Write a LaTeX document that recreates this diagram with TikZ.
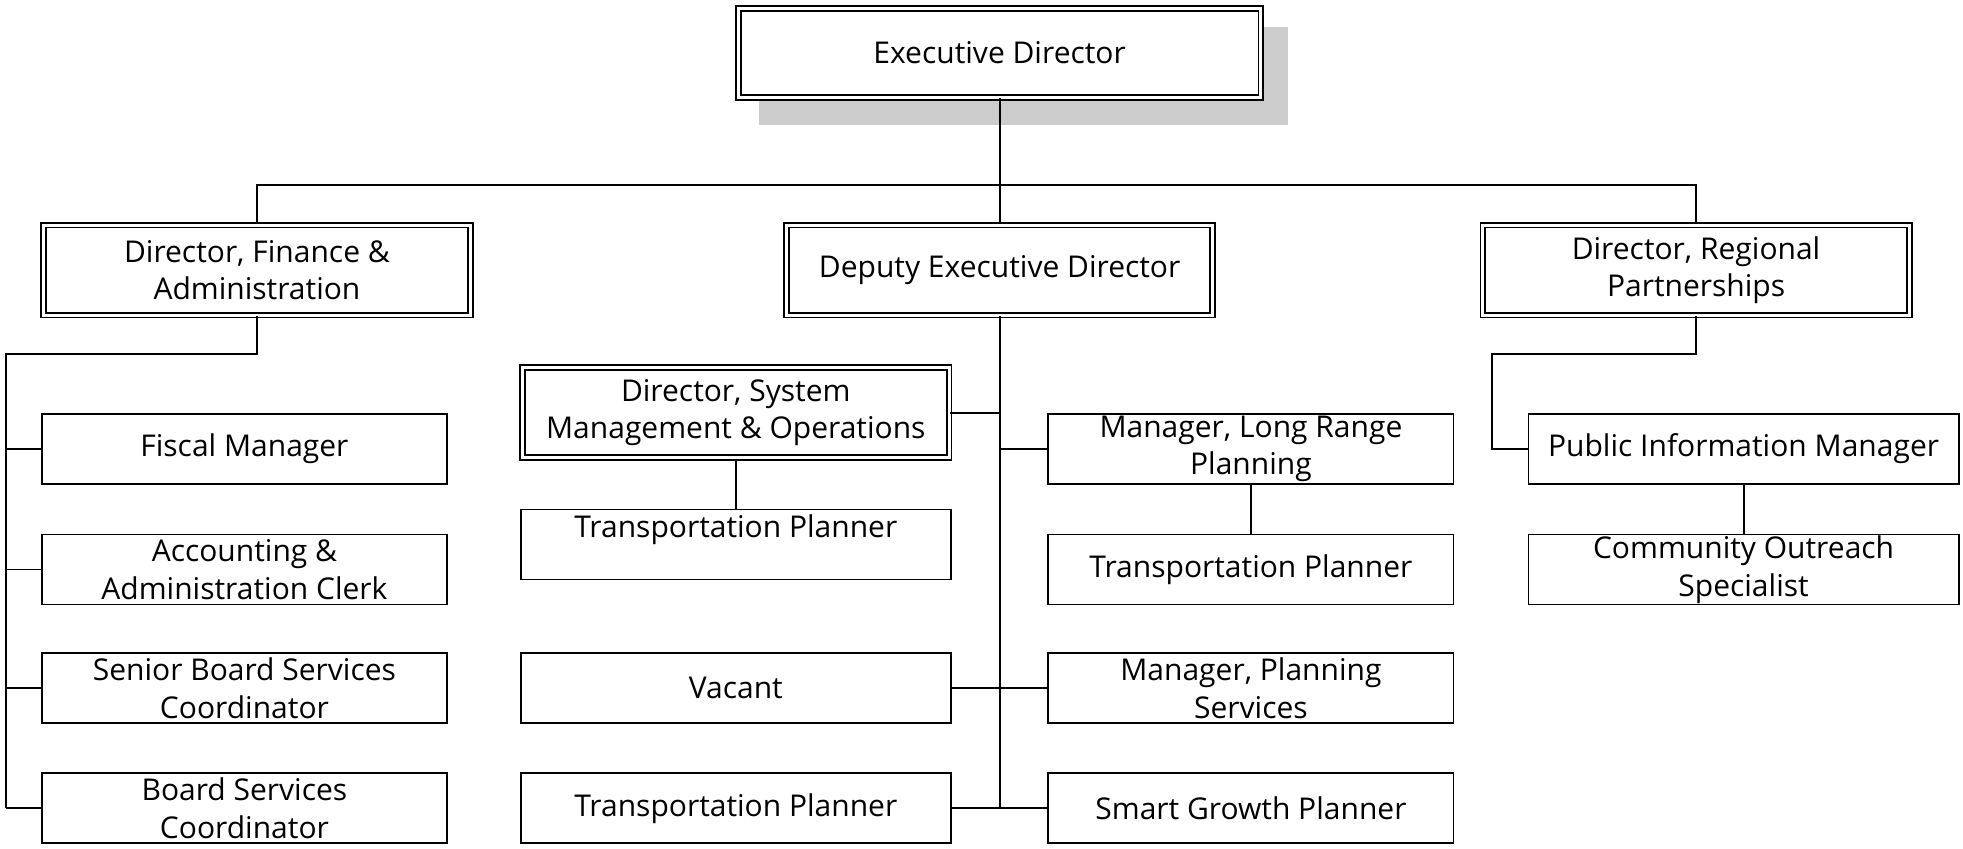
\documentclass[tikz,border=0pt]{standalone}
\usepackage{fontspec}
\setmainfont{Open Sans}
\tikzset{
    dbox/.style={draw=black, line width=0.75pt, double=white, double distance=1.2pt, fill=white,
        minimum width=170.5pt, minimum height=36pt, inner sep=0pt, align=center},
    sbox/.style={draw=black, line width=0.75pt, fill=white,
        minimum width=162pt, minimum height=28pt, inner sep=0pt, align=center},
    wbox/.style={sbox, minimum width=172pt},
    link/.style={line width=0.75pt}
}
\begin{document}
\begin{tikzpicture}[x=0.5pt, y=-0.5pt, font=\fontsize{12}{15}\selectfont]
    \useasboundingbox (0,0) rectangle (1570,678.4);
    % top
    \fill[black!20] (607,22) rectangle (1030,100);
    \node[dbox, minimum width=209pt, minimum height=35.5pt] (ed) at (799.5,42.5) {Executive Director};
    % second row
    \node[dbox] (dfa) at (205.5,216) {Director, Finance \&\\Administration};
    \node[dbox] (ded) at (799.5,216) {Deputy Executive Director};
    \node[dbox] (drp) at (1356.5,216) {Director, Regional\\Partnerships};
    \coordinate (bus) at (799.5,148);
    \draw[link] (ed.south) -- (ded.north);
    \draw[link] (dfa.north) |- (bus) -| (drp.north);
    % finance and administration
    \node[sbox] (fm) at (195.5,359) {Fiscal Manager};
    \node[sbox] (aac) at (195.5,455.5) {Accounting \&\\Administration Clerk};
    \node[sbox] (sbsc) at (195.5,550.5) {Senior Board Services\\Coordinator};
    \node[sbox] (bsc) at (195.5,646.5) {Board Services\\Coordinator};
    \coordinate (fbus) at (5,283);
    \draw[link] (dfa.south) |- (fbus) -- (fbus |- bsc.west);
    \foreach \n in {fm,aac,sbsc,bsc}
        \draw[link] (fbus |- \n.west) -- (\n.west);
    % deputy executive director
    \node[dbox] (dsmo) at (588.5,330) {Director, System\\Management \& Operations};
    \node[wbox] (tpa) at (588.5,435.5) {Transportation Planner\\\mbox{}};
    \node[wbox] (vac) at (588.5,550.5) {Vacant};
    \node[wbox] (tpb) at (588.5,646.5) {Transportation Planner};
    \node[sbox] (mlrp) at (1000.5,359) {Manager, Long Range\\Planning};
    \node[sbox] (tpc) at (1000.5,455.5) {Transportation Planner};
    \node[sbox] (mps) at (1000.5,550.5) {Manager, Planning\\Services};
    \node[sbox] (sgp) at (1000.5,646.5) {Smart Growth Planner};
    \coordinate (dbus) at (799.5,647);
    \draw[link] (ded.south) -- (dbus);
    \foreach \n in {dsmo,vac,tpb}
        \draw[link] (\n.east) -- (\n.east -| dbus);
    \foreach \n in {mlrp,mps,sgp}
        \draw[link] (\n.west -| dbus) -- (\n.west);
    \draw[link] (dsmo.south) -- (tpa.north);
    \draw[link] (mlrp.south) -- (tpc.north);
    % regional partnerships
    \node[wbox] (pim) at (1394.5,359) {Public Information Manager};
    \node[wbox] (cos) at (1394.5,455.5) {Community Outreach\\Specialist};
    \coordinate (rbus) at (1193,283);
    \draw[link] (drp.south) |- (rbus) |- (pim.west);
    \draw[link] (pim.south) -- (cos.north);
\end{tikzpicture}
\end{document}
